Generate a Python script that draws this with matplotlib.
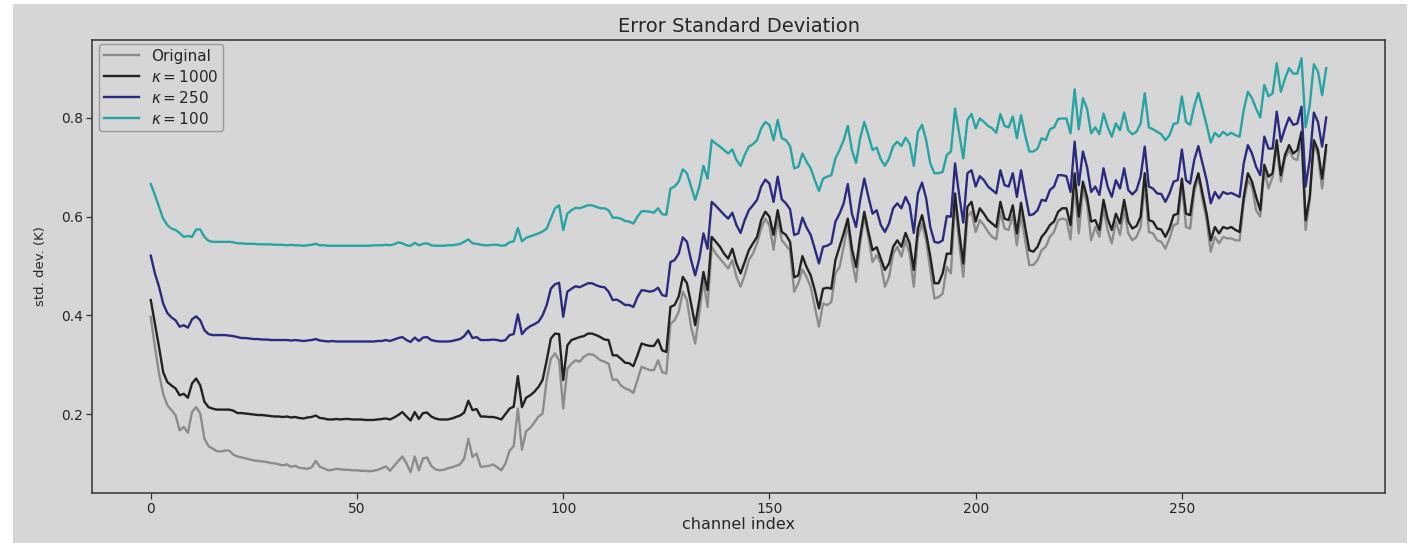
import numpy as np
import matplotlib
matplotlib.use("Agg")
import matplotlib.pyplot as plt
from matplotlib.patches import Rectangle

# Per-channel error standard deviation (K), channels 0..285
original = [
    0.397, 0.336, 0.282, 0.241, 0.218, 0.208, 0.198, 0.167, 0.174, 0.162,
    0.204, 0.214, 0.201, 0.150, 0.135, 0.130, 0.125, 0.124, 0.126, 0.126,
    0.118, 0.114, 0.112, 0.110, 0.108, 0.106, 0.105, 0.104, 0.103, 0.101,
    0.100, 0.098, 0.096, 0.098, 0.093, 0.095, 0.091, 0.090, 0.089, 0.092,
    0.105, 0.093, 0.090, 0.086, 0.087, 0.089, 0.088, 0.087, 0.087, 0.086,
    0.086, 0.085, 0.085, 0.084, 0.085, 0.087, 0.090, 0.094, 0.085, 0.095,
    0.105, 0.114, 0.100, 0.082, 0.114, 0.086, 0.110, 0.112, 0.095, 0.088,
    0.086, 0.087, 0.090, 0.092, 0.095, 0.098, 0.110, 0.150, 0.113, 0.120,
    0.093, 0.094, 0.095, 0.098, 0.092, 0.086, 0.100, 0.126, 0.135, 0.211,
    0.128, 0.165, 0.172, 0.183, 0.195, 0.201, 0.269, 0.312, 0.323, 0.309,
    0.211, 0.292, 0.302, 0.309, 0.306, 0.316, 0.321, 0.321, 0.316, 0.309,
    0.306, 0.302, 0.269, 0.270, 0.258, 0.252, 0.249, 0.243, 0.269, 0.296,
    0.292, 0.289, 0.289, 0.309, 0.285, 0.282, 0.383, 0.390, 0.407, 0.448,
    0.431, 0.377, 0.343, 0.404, 0.471, 0.417, 0.539, 0.525, 0.515, 0.505,
    0.495, 0.512, 0.478, 0.458, 0.481, 0.512, 0.525, 0.546, 0.576, 0.596,
    0.583, 0.533, 0.596, 0.552, 0.542, 0.532, 0.448, 0.465, 0.493, 0.478,
    0.458, 0.417, 0.377, 0.424, 0.421, 0.427, 0.485, 0.498, 0.539, 0.586,
    0.512, 0.468, 0.546, 0.600, 0.559, 0.508, 0.522, 0.505, 0.458, 0.478,
    0.525, 0.539, 0.519, 0.552, 0.525, 0.458, 0.559, 0.586, 0.552, 0.492,
    0.434, 0.437, 0.444, 0.498, 0.485, 0.634, 0.546, 0.478, 0.600, 0.610,
    0.569, 0.593, 0.583, 0.569, 0.559, 0.554, 0.610, 0.576, 0.573, 0.603,
    0.542, 0.606, 0.552, 0.502, 0.502, 0.512, 0.532, 0.539, 0.559, 0.569,
    0.593, 0.596, 0.594, 0.554, 0.667, 0.566, 0.654, 0.627, 0.552, 0.579,
    0.559, 0.617, 0.573, 0.546, 0.590, 0.563, 0.617, 0.566, 0.552, 0.559,
    0.579, 0.667, 0.569, 0.566, 0.552, 0.549, 0.535, 0.556, 0.583, 0.586,
    0.667, 0.579, 0.576, 0.650, 0.681, 0.634, 0.593, 0.529, 0.559, 0.546,
    0.559, 0.556, 0.556, 0.552, 0.552, 0.627, 0.674, 0.661, 0.613, 0.600,
    0.694, 0.657, 0.681, 0.745, 0.671, 0.718, 0.735, 0.718, 0.715, 0.762,
    0.573, 0.634, 0.748, 0.725, 0.657, 0.735,
]

kappa_1000 = [
    0.431, 0.383, 0.336, 0.285, 0.265, 0.258, 0.252, 0.238, 0.241, 0.233,
    0.262, 0.272, 0.258, 0.225, 0.214, 0.211, 0.209, 0.209, 0.209, 0.209,
    0.207, 0.202, 0.202, 0.201, 0.200, 0.199, 0.198, 0.198, 0.197, 0.196,
    0.195, 0.195, 0.194, 0.195, 0.193, 0.194, 0.192, 0.191, 0.193, 0.194,
    0.197, 0.192, 0.191, 0.189, 0.189, 0.190, 0.189, 0.190, 0.190, 0.189,
    0.189, 0.189, 0.188, 0.188, 0.188, 0.189, 0.190, 0.191, 0.189, 0.193,
    0.198, 0.204, 0.195, 0.187, 0.204, 0.190, 0.202, 0.203, 0.195, 0.191,
    0.189, 0.189, 0.189, 0.191, 0.194, 0.197, 0.203, 0.227, 0.208, 0.210,
    0.195, 0.195, 0.194, 0.194, 0.192, 0.189, 0.200, 0.211, 0.215, 0.277,
    0.214, 0.233, 0.238, 0.245, 0.255, 0.269, 0.309, 0.353, 0.363, 0.362,
    0.269, 0.339, 0.350, 0.353, 0.356, 0.358, 0.363, 0.363, 0.360, 0.356,
    0.351, 0.350, 0.319, 0.319, 0.312, 0.304, 0.303, 0.297, 0.319, 0.343,
    0.340, 0.338, 0.338, 0.351, 0.329, 0.326, 0.417, 0.421, 0.438, 0.478,
    0.465, 0.424, 0.380, 0.431, 0.488, 0.451, 0.559, 0.549, 0.539, 0.525,
    0.515, 0.535, 0.505, 0.485, 0.508, 0.532, 0.546, 0.559, 0.593, 0.610,
    0.600, 0.563, 0.613, 0.569, 0.563, 0.549, 0.477, 0.481, 0.520, 0.498,
    0.481, 0.451, 0.414, 0.454, 0.456, 0.454, 0.512, 0.539, 0.566, 0.596,
    0.535, 0.498, 0.559, 0.610, 0.569, 0.532, 0.538, 0.515, 0.492, 0.505,
    0.539, 0.552, 0.539, 0.567, 0.546, 0.492, 0.576, 0.603, 0.566, 0.519,
    0.465, 0.465, 0.485, 0.525, 0.525, 0.647, 0.569, 0.505, 0.620, 0.630,
    0.590, 0.617, 0.606, 0.593, 0.586, 0.579, 0.630, 0.596, 0.593, 0.623,
    0.566, 0.628, 0.579, 0.532, 0.529, 0.539, 0.559, 0.569, 0.583, 0.590,
    0.610, 0.617, 0.617, 0.583, 0.688, 0.600, 0.671, 0.640, 0.590, 0.593,
    0.573, 0.634, 0.596, 0.573, 0.606, 0.586, 0.634, 0.590, 0.576, 0.581,
    0.600, 0.688, 0.593, 0.590, 0.576, 0.574, 0.559, 0.576, 0.603, 0.606,
    0.677, 0.606, 0.603, 0.661, 0.688, 0.647, 0.606, 0.552, 0.579, 0.566,
    0.579, 0.576, 0.579, 0.573, 0.569, 0.640, 0.688, 0.671, 0.640, 0.613,
    0.705, 0.681, 0.688, 0.755, 0.684, 0.725, 0.745, 0.728, 0.735, 0.772,
    0.593, 0.640, 0.755, 0.735, 0.677, 0.745,
]

kappa_250 = [
    0.521, 0.485, 0.458, 0.424, 0.405, 0.396, 0.390, 0.377, 0.380, 0.375,
    0.392, 0.398, 0.390, 0.370, 0.362, 0.360, 0.360, 0.360, 0.360, 0.359,
    0.358, 0.356, 0.354, 0.354, 0.353, 0.352, 0.352, 0.351, 0.351, 0.350,
    0.350, 0.350, 0.350, 0.350, 0.349, 0.350, 0.349, 0.348, 0.349, 0.350,
    0.352, 0.349, 0.348, 0.347, 0.348, 0.347, 0.347, 0.347, 0.347, 0.347,
    0.347, 0.347, 0.347, 0.347, 0.347, 0.348, 0.348, 0.350, 0.348, 0.351,
    0.354, 0.356, 0.350, 0.346, 0.355, 0.348, 0.355, 0.356, 0.350, 0.348,
    0.347, 0.347, 0.347, 0.348, 0.350, 0.352, 0.358, 0.369, 0.354, 0.356,
    0.350, 0.350, 0.350, 0.351, 0.350, 0.348, 0.350, 0.360, 0.362, 0.402,
    0.362, 0.372, 0.378, 0.382, 0.387, 0.400, 0.421, 0.454, 0.463, 0.466,
    0.397, 0.448, 0.454, 0.459, 0.457, 0.461, 0.465, 0.465, 0.461, 0.458,
    0.457, 0.448, 0.431, 0.432, 0.427, 0.421, 0.421, 0.417, 0.437, 0.451,
    0.450, 0.448, 0.450, 0.456, 0.441, 0.439, 0.508, 0.512, 0.525, 0.558,
    0.549, 0.512, 0.481, 0.515, 0.566, 0.535, 0.630, 0.622, 0.613, 0.604,
    0.596, 0.608, 0.583, 0.567, 0.593, 0.613, 0.623, 0.634, 0.661, 0.675,
    0.667, 0.630, 0.681, 0.635, 0.627, 0.615, 0.563, 0.566, 0.598, 0.578,
    0.563, 0.535, 0.505, 0.539, 0.541, 0.546, 0.590, 0.606, 0.627, 0.666,
    0.606, 0.579, 0.634, 0.677, 0.640, 0.606, 0.613, 0.583, 0.569, 0.586,
    0.617, 0.627, 0.617, 0.640, 0.623, 0.567, 0.647, 0.669, 0.637, 0.579,
    0.549, 0.547, 0.552, 0.601, 0.600, 0.708, 0.644, 0.588, 0.688, 0.694,
    0.661, 0.682, 0.674, 0.661, 0.654, 0.647, 0.694, 0.664, 0.661, 0.688,
    0.640, 0.694, 0.647, 0.603, 0.605, 0.613, 0.634, 0.632, 0.654, 0.661,
    0.684, 0.684, 0.682, 0.650, 0.752, 0.664, 0.732, 0.701, 0.650, 0.661,
    0.644, 0.698, 0.661, 0.640, 0.674, 0.657, 0.698, 0.654, 0.645, 0.654,
    0.681, 0.742, 0.661, 0.657, 0.647, 0.646, 0.630, 0.647, 0.671, 0.674,
    0.736, 0.674, 0.667, 0.715, 0.743, 0.708, 0.674, 0.627, 0.650, 0.637,
    0.650, 0.646, 0.648, 0.644, 0.640, 0.708, 0.745, 0.728, 0.701, 0.684,
    0.762, 0.738, 0.738, 0.813, 0.752, 0.779, 0.801, 0.786, 0.789, 0.823,
    0.661, 0.715, 0.811, 0.792, 0.742, 0.801,
]

kappa_100 = [
    0.666, 0.644, 0.620, 0.596, 0.583, 0.576, 0.573, 0.567, 0.559, 0.561,
    0.559, 0.574, 0.574, 0.559, 0.551, 0.549, 0.549, 0.549, 0.549, 0.549,
    0.548, 0.546, 0.546, 0.545, 0.545, 0.545, 0.544, 0.544, 0.544, 0.544,
    0.543, 0.543, 0.543, 0.542, 0.543, 0.542, 0.542, 0.541, 0.542, 0.543,
    0.545, 0.542, 0.542, 0.541, 0.541, 0.541, 0.541, 0.541, 0.541, 0.541,
    0.541, 0.541, 0.541, 0.541, 0.542, 0.542, 0.542, 0.543, 0.542, 0.544,
    0.548, 0.546, 0.542, 0.541, 0.547, 0.542, 0.545, 0.546, 0.542, 0.541,
    0.541, 0.541, 0.542, 0.542, 0.543, 0.545, 0.549, 0.554, 0.546, 0.545,
    0.543, 0.542, 0.542, 0.543, 0.543, 0.541, 0.542, 0.548, 0.550, 0.577,
    0.550, 0.557, 0.560, 0.563, 0.566, 0.570, 0.576, 0.596, 0.617, 0.623,
    0.573, 0.606, 0.613, 0.618, 0.617, 0.620, 0.623, 0.623, 0.620, 0.617,
    0.617, 0.613, 0.598, 0.598, 0.596, 0.591, 0.590, 0.586, 0.600, 0.611,
    0.611, 0.610, 0.608, 0.617, 0.605, 0.604, 0.657, 0.661, 0.671, 0.696,
    0.688, 0.661, 0.634, 0.661, 0.703, 0.677, 0.755, 0.748, 0.742, 0.735,
    0.728, 0.736, 0.715, 0.703, 0.725, 0.742, 0.747, 0.755, 0.779, 0.792,
    0.786, 0.755, 0.796, 0.759, 0.755, 0.743, 0.698, 0.701, 0.728, 0.711,
    0.698, 0.674, 0.652, 0.677, 0.681, 0.684, 0.718, 0.735, 0.755, 0.784,
    0.735, 0.709, 0.759, 0.792, 0.765, 0.735, 0.740, 0.716, 0.703, 0.718,
    0.743, 0.752, 0.743, 0.760, 0.748, 0.703, 0.772, 0.786, 0.755, 0.708,
    0.688, 0.688, 0.691, 0.725, 0.732, 0.819, 0.769, 0.718, 0.796, 0.808,
    0.779, 0.799, 0.792, 0.784, 0.779, 0.770, 0.808, 0.784, 0.781, 0.803,
    0.759, 0.806, 0.765, 0.732, 0.732, 0.738, 0.759, 0.755, 0.777, 0.781,
    0.798, 0.799, 0.799, 0.769, 0.858, 0.777, 0.840, 0.819, 0.769, 0.781,
    0.767, 0.809, 0.782, 0.762, 0.789, 0.775, 0.811, 0.775, 0.767, 0.772,
    0.789, 0.850, 0.781, 0.777, 0.772, 0.767, 0.755, 0.765, 0.788, 0.790,
    0.844, 0.792, 0.786, 0.824, 0.851, 0.819, 0.786, 0.750, 0.770, 0.762,
    0.772, 0.765, 0.770, 0.765, 0.762, 0.816, 0.853, 0.840, 0.819, 0.801,
    0.867, 0.844, 0.850, 0.911, 0.853, 0.880, 0.901, 0.890, 0.890, 0.921,
    0.781, 0.826, 0.909, 0.894, 0.846, 0.901,
]

series_labels = ["Original", r"$\kappa=1000$", r"$\kappa=250$", r"$\kappa=100$"]
series_colors = ["#8c8c8c", "#222222", "#2a2a80", "#27a4a4"]

BG = "#d6d6d6"
TXT = "#262626"

channels = np.arange(len(original))

fig = plt.figure(figsize=(14.14, 5.43), dpi=100, facecolor="white")
# grey canvas panel inset slightly from the image border
fig.patches.append(Rectangle((13 / 1414, 0), (1407 - 13) / 1414, 539 / 543,
                             transform=fig.transFigure, facecolor=BG,
                             edgecolor="none", zorder=-10))

ax_w, ax_h = 1385 - 92, 493 - 40
ax = fig.add_axes([92 / 1414, 1 - 493 / 543, ax_w / 1414, ax_h / 543])
ax.set_facecolor(BG)

for values, label, color in zip([original, kappa_1000, kappa_250, kappa_100],
                                series_labels, series_colors):
    ax.plot(channels, values, color=color, lw=1.7, label=label)

ax.set_xlim(-14.25, 299.25)
ax.set_ylim(0.040, 0.958)
ax.set_xticks([0, 50, 100, 150, 200, 250])
ax.set_yticks([0.2, 0.4, 0.6, 0.8])
ax.set_yticklabels(["0.2", "0.4", "0.6", "0.8"])

for sp in ax.spines.values():
    sp.set_color("#333333")
    sp.set_linewidth(1.1)
ax.tick_params(colors="#333333", labelcolor=TXT, labelsize=10, length=4,
               width=0.9, pad=2.5)

ax.set_title("Error Standard Deviation", fontsize=14, color=TXT, pad=6)
ax.set_xlabel("channel index", fontsize=11.5, color=TXT, labelpad=1)
ax.set_ylabel("std. dev. (K)", fontsize=9.5, color=TXT, labelpad=10)

leg = ax.legend(loc="upper left", bbox_to_anchor=(7 / ax_w, 1 - 4 / ax_h),
                borderaxespad=0, fontsize=11, frameon=True, fancybox=True,
                borderpad=0.3, handlelength=2.3, handletextpad=0.8,
                labelspacing=0.33)
leg.get_frame().set_facecolor(BG)
leg.get_frame().set_edgecolor("#9a9a9a")
leg.get_frame().set_alpha(1.0)
for t in leg.get_texts():
    t.set_color(TXT)

fig.savefig("out.png", dpi=100, facecolor=fig.get_facecolor())
